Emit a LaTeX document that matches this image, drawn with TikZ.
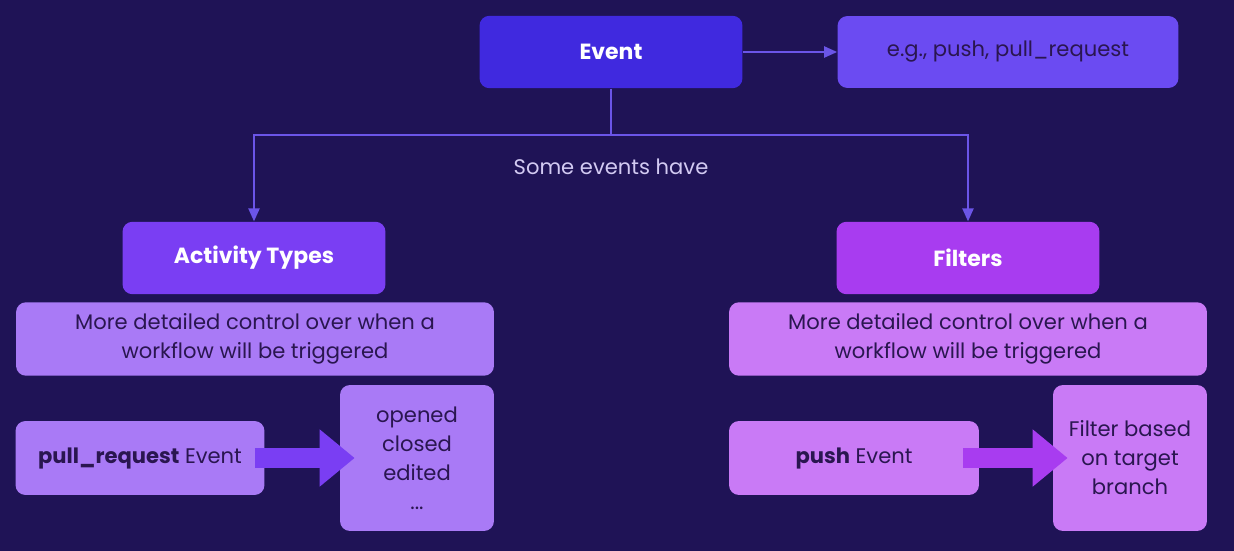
\documentclass[tikz,border=0pt]{standalone}
\usepackage{fontspec}
\setmainfont{Poppins}
\usetikzlibrary{arrows.meta,positioning}
\definecolor{bgnavy}{HTML}{1F1356}
\definecolor{linepurple}{HTML}{6B55E8}
\definecolor{eventblue}{HTML}{4029DF}
\definecolor{egviolet}{HTML}{6B4BF2}
\definecolor{actpurple}{HTML}{7A3EF3}
\definecolor{filtmagenta}{HTML}{A83CF0}
\definecolor{actlight}{HTML}{A97AF6}
\definecolor{filtlight}{HTML}{C97AF6}
\definecolor{darktext}{HTML}{2A1650}
\definecolor{softtext}{HTML}{D2CAF2}
\tikzset{
  box/.style={rounded corners=0.2cm, align=center, inner sep=0pt,
    font=\fontsize{12}{16.5}\selectfont},
  head/.style={box, text=white, font=\fontsize{12.5}{16}\selectfont\bfseries,
    minimum width=5.26cm, minimum height=1.45cm},
  info/.style={box, text=darktext, minimum height=1.47cm},
  link/.style={draw=linepurple, line width=1.2pt, -{Triangle[length=0.26cm,width=0.22cm]}},
  fat/.style={line width=0.4cm, -{Triangle[length=0.7cm,width=1.1cm]}}
}
\begin{document}
\begin{tikzpicture}[x=0.02cm,y=-0.02cm]
    \fill[bgnavy] (0,0) rectangle (1234,551);
    \useasboundingbox (0,0) rectangle (1234,551);
    % top row
    \node[head, fill=eventblue] (event) at (611,52) {Event};
    \node[info, fill=egviolet, minimum width=6.82cm, minimum height=1.44cm] (examples) at (1008,52) {e.g., push, pull\_request};
    % second row
    \node[head, fill=actpurple] (activity) at (254,258) {Activity Types};
    \node[head, fill=filtmagenta] (filters) at (968,258) {Filters};
    \node[info, fill=actlight, minimum width=9.56cm] (actdesc) at (255,339) {More detailed control over when a\\workflow will be triggered};
    \node[info, fill=filtlight, minimum width=9.56cm] (filtdesc) at (968,339) {More detailed control over when a\\workflow will be triggered};
    % examples
    \node[info, fill=actlight, minimum width=4.98cm, minimum height=1.48cm] (prevent) at (140,458) {\textbf{pull\_request} Event};
    \node[info, fill=actlight, minimum width=3.08cm, minimum height=2.92cm] (types) at (417,458) {opened\\closed\\edited\\...};
    \node[info, fill=filtlight, minimum width=5cm, minimum height=1.48cm] (pushevent) at (854,458) {\textbf{push} Event};
    \node[info, fill=filtlight, minimum width=3.08cm, minimum height=2.92cm] (branch) at (1130,458) {Filter based\\on target\\branch};
    \coordinate (split) at (611,135);
    % connectors
    \draw[link] (event) -- (examples);
    \draw[draw=linepurple, line width=1.2pt] (event) -- (split);
    \draw[link] (split) -| (activity);
    \draw[link] (split) -| (filters);
    \node[text=softtext, font=\fontsize{12}{14}\selectfont] (have) at (611,167) {Some events have};
    \draw[fat, actpurple] ([xshift=-0.2cm]prevent.east) -- ([xshift=0.3cm]types.west);
    \draw[fat, filtmagenta] ([xshift=-0.32cm]pushevent.east) -- ([xshift=0.3cm]branch.west);
\end{tikzpicture}
\end{document}
